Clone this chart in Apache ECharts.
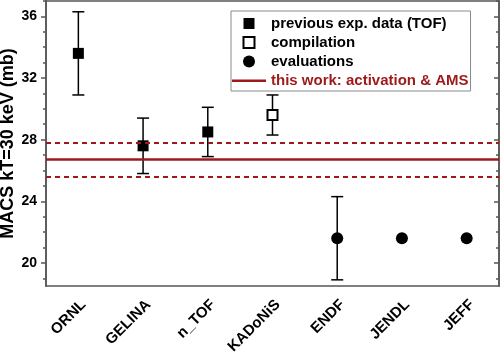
<!DOCTYPE html>
<html>
<head>
<meta charset="utf-8">
<script src="https://cdn.jsdelivr.net/npm/echarts@6/dist/echarts.min.js"></script>
<style>html,body{margin:0;padding:0;background:#fff}#c{width:500px;height:355px}</style>
</head>
<body>
<div id="c"></div>
<script>
const categories = ['ORNL', 'GELINA', 'n_TOF', 'KADoNiS', 'ENDF', 'JENDL', 'JEFF'];
// previous exp. data (TOF): [category index, value, error]
const tofData = [[0, 33.6, 2.7], [1, 27.6, 1.8], [2, 28.5, 1.6]];
// compilation
const compData = [[3, 29.6, 1.3]];
// evaluations (error 0 = no bar)
const evalData = [[4, 21.6, 2.7], [5, 21.6, 0], [6, 21.6, 0]];
// this work: activation & AMS
const thisWork = 26.7;
const thisWorkUpper = 27.8;
const thisWorkLower = 25.6;
const yMajorTicks = [20, 24, 28, 32, 36];
const yMinorTicks = [19, 21, 22, 23, 25, 26, 27, 29, 30, 31, 33, 34, 35, 37];

const RED = '#9e1a1a';
const AXIS = '#555555';
const FONT = 'Liberation Sans, Arial, sans-serif';

const errItems = tofData.concat(compData).concat(evalData)
  .filter(d => d[2] > 0)
  .map(d => [d[0], d[1] - d[2], d[1] + d[2]]);

const chart = echarts.init(document.getElementById('c'));

function yAxisBase(pos, opts) {
  return Object.assign({
    type: 'value', position: pos, min: 18.5, max: 37,
    splitLine: {show: false},
    axisLine: {show: true, lineStyle: {color: AXIS, width: 1.5}},
    axisLabel: {show: false},
  }, opts);
}

const ICON_SQUARE = 'path://M0,0M34,12M11.5,0.5h11v11h-11z';
const ICON_LINE = 'path://M0,0M34,12M0,5h34v2.4h-34z';

chart.setOption({
  animation: false,
  textStyle: {fontFamily: FONT},
  grid: {left: 46, right: 1, top: 1, bottom: 69, containLabel: false, outerBoundsMode: 'none'},
  legend: {
    orient: 'vertical', left: 231, top: 11,
    itemWidth: 34, itemHeight: 12, itemGap: 4,
    padding: [5, 2, 3, 0],
    borderColor: '#8a8a8a', borderWidth: 1, backgroundColor: '#fff',
    textStyle: {fontFamily: FONT, fontWeight: 'bold', fontSize: 15, color: '#000'},
    data: [
      {name: 'previous exp. data (TOF)', icon: ICON_SQUARE},
      {name: 'compilation', icon: ICON_SQUARE},
      {name: 'evaluations', icon: 'circle'},
      {name: 'this work: activation & AMS', icon: ICON_LINE, textStyle: {color: RED}}
    ]
  },
  xAxis: [
    {
      type: 'category', position: 'bottom', data: categories,
      axisLine: {lineStyle: {color: AXIS, width: 1.5}},
      axisTick: {alignWithLabel: true, length: 5, lineStyle: {color: AXIS, width: 1.5}},
      axisLabel: {rotate: 45, margin: 11, verticalAlign: 'top', color: '#000', fontWeight: 'bold', fontSize: 15, fontFamily: FONT},
      splitLine: {show: false}
    },
    {
      type: 'category', position: 'top', data: categories,
      axisLine: {lineStyle: {color: AXIS, width: 1.5}},
      axisTick: {alignWithLabel: true, inside: true, length: 5, lineStyle: {color: AXIS, width: 1.5}},
      axisLabel: {show: false},
      splitLine: {show: false}
    }
  ],
  yAxis: [
    yAxisBase('left', {
      name: 'MACS kT=30 keV (mb)', nameLocation: 'middle', nameGap: 29, nameMoveOverlap: false,
      nameTextStyle: {fontWeight: 'bold', fontSize: 18, color: '#000', fontFamily: FONT},
      axisLabel: {show: true, customValues: yMajorTicks, color: '#000', fontWeight: 'bold', fontSize: 14, margin: 9, fontFamily: FONT},
      axisTick: {show: true, customValues: yMajorTicks, length: 5, lineStyle: {color: AXIS, width: 1.5}}
    }),
    yAxisBase('left', {
      axisTick: {show: true, customValues: yMinorTicks, length: 3, lineStyle: {color: AXIS, width: 1.5}}
    }),
    yAxisBase('right', {
      axisTick: {show: true, inside: true, customValues: yMajorTicks, length: 5, lineStyle: {color: AXIS, width: 1.5}}
    }),
    yAxisBase('right', {
      axisTick: {show: true, inside: true, customValues: yMinorTicks, length: 3, lineStyle: {color: AXIS, width: 1.5}}
    })
  ],
  series: [
    {
      type: 'line', name: 'this work: activation & AMS',
      data: [], symbol: 'none',
      lineStyle: {color: RED, width: 2.5}, itemStyle: {color: RED},
      markLine: {
        silent: true, symbol: 'none', label: {show: false},
        data: [
          {yAxis: thisWork, lineStyle: {color: RED, width: 2.5, type: 'solid'}},
          {yAxis: thisWorkUpper, lineStyle: {color: RED, width: 1.8, type: [5, 4]}},
          {yAxis: thisWorkLower, lineStyle: {color: RED, width: 1.8, type: [5, 4]}}
        ]
      },
      z: 1
    },
    {
      type: 'custom', name: 'errors', data: errItems, z: 2,
      renderItem: function (params, api) {
        const x = api.value(0);
        const lo = api.coord([x, api.value(1)]);
        const hi = api.coord([x, api.value(2)]);
        const cap = 6;
        const st = {stroke: '#000', lineWidth: 1.5, fill: null};
        return {
          type: 'group',
          children: [
            {type: 'line', shape: {x1: lo[0], y1: lo[1], x2: hi[0], y2: hi[1]}, style: st},
            {type: 'line', shape: {x1: lo[0] - cap, y1: lo[1], x2: lo[0] + cap, y2: lo[1]}, style: st},
            {type: 'line', shape: {x1: hi[0] - cap, y1: hi[1], x2: hi[0] + cap, y2: hi[1]}, style: st}
          ]
        };
      },
      encode: {x: 0, y: 1}
    },
    {
      type: 'scatter', name: 'previous exp. data (TOF)',
      data: tofData.map(d => [d[0], d[1]]), symbol: 'rect', symbolSize: 11,
      itemStyle: {color: '#000', opacity: 1}, z: 3
    },
    {
      type: 'scatter', name: 'compilation',
      data: compData.map(d => [d[0], d[1]]), symbol: 'rect', symbolSize: 10,
      itemStyle: {color: '#fff', borderColor: '#000', borderWidth: 2, opacity: 1}, z: 3
    },
    {
      type: 'scatter', name: 'evaluations',
      data: evalData.map(d => [d[0], d[1]]), symbol: 'circle', symbolSize: 12,
      itemStyle: {color: '#000', opacity: 1}, z: 3
    }
  ]
});
</script>
</body>
</html>
